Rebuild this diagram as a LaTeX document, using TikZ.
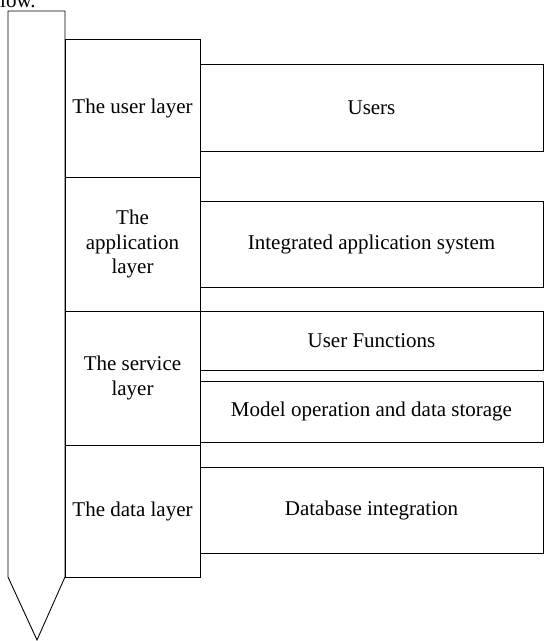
\documentclass[tikz,border=0pt]{standalone}
\usepackage{fontspec}
\setmainfont{Liberation Serif}
\begin{document}
\begin{tikzpicture}[x=1pt,y=-1pt,
  box/.style={draw=black, line width=0.9pt, inner sep=0pt, align=center,
    font=\fontsize{21}{24.5}\selectfont},
  layerbox/.style={box, minimum width=135pt},
  itembox/.style={box, minimum width=343pt},
  arrowshape/.style={draw=black, line width=0.9pt, line join=miter}]
\useasboundingbox (0,0) rectangle (544,641);
\clip (0,0) rectangle (544,641);
% cropped caption fragment
\node[anchor=base west, inner sep=0pt, font=\fontsize{21}{24.5}\selectfont] (cap) at (0,7) {low.};
% big arrow
\coordinate (a1) at (8,11);
\coordinate (a2) at (65,11);
\coordinate (a3) at (65,577);
\coordinate (a4) at (37,640);
\coordinate (a5) at (8,577);
\draw[arrowshape] (a1) -- (a2) -- (a3) -- (a4) -- (a5) -- cycle;
% layer boxes
\node[layerbox, minimum height=138pt] (user) at (132.5,108) {The user layer};
\node[layerbox, minimum height=134pt] (app) at (132.5,244) {The\\application\\layer};
\node[layerbox, minimum height=134pt] (serv) at (132.5,378) {The service\\layer};
\node[layerbox, minimum height=132pt] (data) at (132.5,511) {The data layer};
% item boxes
\node[itembox, minimum height=87pt] (users) at (371.5,107.5) {Users};
\node[itembox, minimum height=86pt] (integ) at (371.5,244) {Integrated application system};
\node[itembox, minimum height=59pt] (ufun) at (371.5,340.5) {User Functions};
\node[itembox, minimum height=61pt] (model) at (371.5,411.5) {Model operation and data storage};
\node[itembox, minimum height=86pt] (dbase) at (371.5,510) {Database integration};
\end{tikzpicture}
\end{document}
